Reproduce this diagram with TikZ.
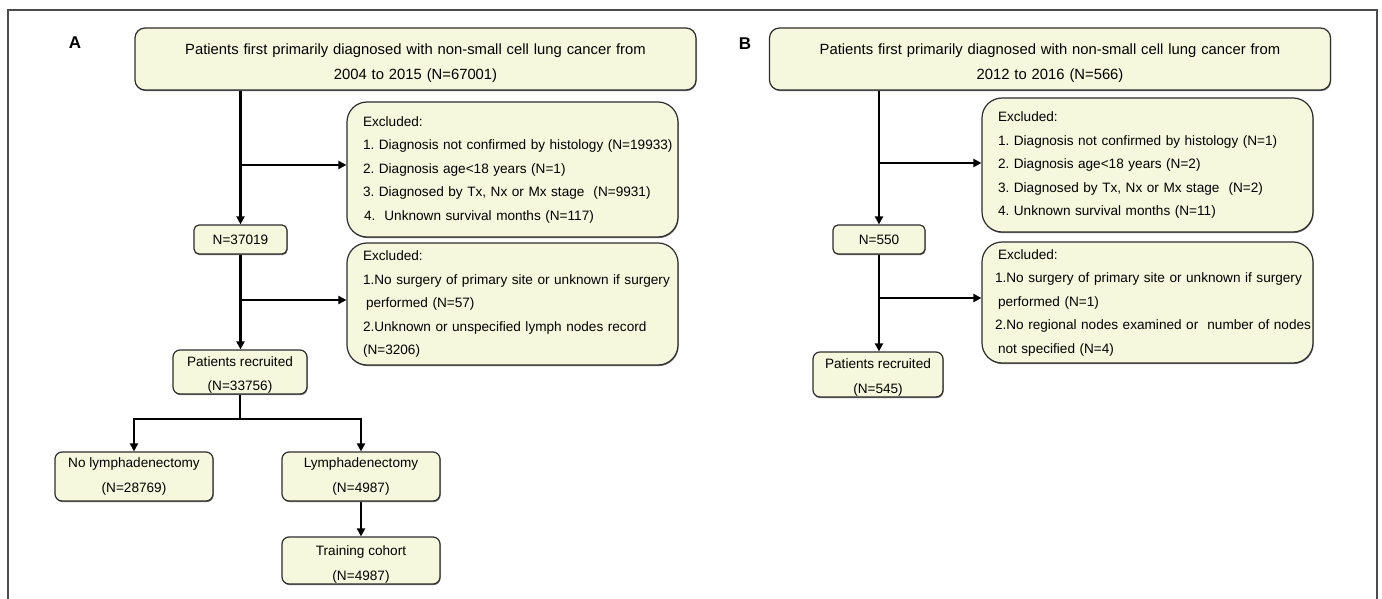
\documentclass[tikz,border=0pt]{standalone}
\usepackage{fontspec}
\setmainfont{Liberation Sans}
\usetikzlibrary{arrows.meta,shadows}
\definecolor{boxfill}{RGB}{246,248,221}
\definecolor{boxline}{RGB}{45,45,45}
\newcommand{\toppad}[1]{\rule{0pt}{#1}}
\begin{document}
\begin{tikzpicture}[x=1pt,y=-1pt,
  every node/.style={font=\fontsize{13.6}{23.5}\selectfont\frenchspacing},
  box/.style={draw=boxline, line width=1.2pt, fill=boxfill,
    drop shadow={shadow xshift=0.6pt,shadow yshift=-1.1pt,fill=black!55,opacity=1},
    inner xsep=2pt, inner ysep=1pt},
  titlebox/.style={box, rounded corners=10pt, align=center, text width=540pt,
    inner xsep=10pt, inner ysep=0pt,
    minimum width=561pt, minimum height=62pt, font=\fontsize{14.8}{25}\selectfont\frenchspacing},
  exbox/.style={box, rounded corners=20pt, align=left, text width=299pt,
    inner xsep=16pt, minimum width=331pt},
  smallbox/.style={box, rounded corners=5pt, minimum width=93pt, minimum height=29pt},
  midbox/.style={box, rounded corners=7pt, align=center, inner ysep=0pt,
    font=\fontsize{13.6}{24.5}\selectfont\frenchspacing},
  arr/.style={line width=2.3pt, -{Triangle[length=8pt,width=8pt]}},
  link/.style={line width=2.3pt},
  panel/.style={font=\fontsize{17}{20}\selectfont\bfseries}
]
\useasboundingbox (0,0) rectangle (1382,599);
\fill[white] (0,0) rectangle (1382,599);
\draw[line width=1.6pt, draw=black!70] (8,599) -- (8,10) -- (1377,10) -- (1377,599);

% ---------------- Panel A ----------------
\node[panel] (labA) at (75,43) {A};
\node[titlebox] (topA) at (415.5,59) {\toppad{19pt}Patients first primarily diagnosed with non-small cell lung cancer from\\2004 to 2015 (N=67001)};
\node[exbox, minimum height=135pt] (exA1) at (512.5,169.5) {%
\mbox{Excluded:}\\
\mbox{1. Diagnosis not confirmed by histology (N=19933)}\\
\mbox{2. Diagnosis age<18 years (N=1)}\\
\mbox{3. Diagnosed by Tx, Nx or Mx stage\ \ (N=9931)}\\
\mbox{\hspace*{1pt}4.\ \ Unknown survival months (N=117)}};
\node[smallbox] (nA) at (240.5,239.5) {N=37019};
\node[exbox, minimum height=122pt] (exA2) at (512.5,304) {%
\mbox{Excluded:}\\
\mbox{1.No surgery of primary site or unknown if surgery}\\
\mbox{\hspace*{3pt}performed (N=57)}\\
\mbox{2.Unknown or unspecified lymph nodes record}\\
\mbox{(N=3206)}};
\node[midbox, minimum width=134pt, minimum height=44pt] (prA) at (240,372) {\toppad{16pt}Patients recruited\\(N=33756)};
\node[midbox, minimum width=158pt, minimum height=49pt] (noA) at (134,476.5) {No lymphadenectomy\\(N=28769)};
\node[midbox, minimum width=158pt, minimum height=49pt] (lyA) at (361,476.5) {Lymphadenectomy\\(N=4987)};
\node[midbox, minimum width=158pt, minimum height=47pt] (trA) at (361,560.5) {\toppad{18pt}Training cohort\\(N=4987)};

\coordinate (jA1) at (240.5,165);
\coordinate (jA2) at (240.5,300);
\coordinate (splitA) at (240,419);

\draw[arr] (topA.south -| nA.north) -- (nA.north);
\draw[arr] (jA1) -- (jA1 -| exA1.west);
\draw[arr] (nA.south) -- (nA.south |- prA.north);
\draw[arr] (jA2) -- (jA2 -| exA2.west);
\draw[link] (prA.south) -- (splitA);
\draw[arr] (splitA) -| (noA.north);
\draw[arr] (splitA) -| (lyA.north);
\draw[arr] (lyA.south) -- (trA.north);

% ---------------- Panel B ----------------
\node[panel] (labB) at (745,44) {B};
\node[titlebox] (topB) at (1050,59) {\toppad{19pt}Patients first primarily diagnosed with non-small cell lung cancer from\\2012 to 2016 (N=566)};
\node[exbox, minimum height=134pt] (exB1) at (1147.5,165) {%
\mbox{Excluded:}\\
\mbox{1. Diagnosis not confirmed by histology (N=1)}\\
\mbox{2. Diagnosis age<18 years (N=2)}\\
\mbox{3. Diagnosed by Tx, Nx or Mx stage\ \ (N=2)}\\
\mbox{4. Unknown survival months (N=11)}};
\node[smallbox, minimum width=92pt] (nB) at (879,239.5) {N=550};
\node[exbox, minimum height=121pt] (exB2) at (1147.5,302.5) {%
\mbox{Excluded:}\\
\mbox{\hspace*{-3pt}1.No surgery of primary site or unknown if surgery}\\
\mbox{performed (N=1)}\\
\mbox{\hspace*{-3pt}2.No regional nodes examined or\ \ number of nodes}\\
\mbox{not specified (N=4)}};
\node[midbox, minimum width=130pt, minimum height=45pt] (prB) at (878,374.5) {\toppad{16pt}Patients recruited\\(N=545)};

\coordinate (jB1) at (879,163);
\coordinate (jB2) at (879,298);

\draw[arr] (topB.south -| nB.north) -- (nB.north);
\draw[arr] (jB1) -- (jB1 -| exB1.west);
\draw[arr] (nB.south) -- (nB.south |- prB.north);
\draw[arr] (jB2) -- (jB2 -| exB2.west);
\end{tikzpicture}
\end{document}
